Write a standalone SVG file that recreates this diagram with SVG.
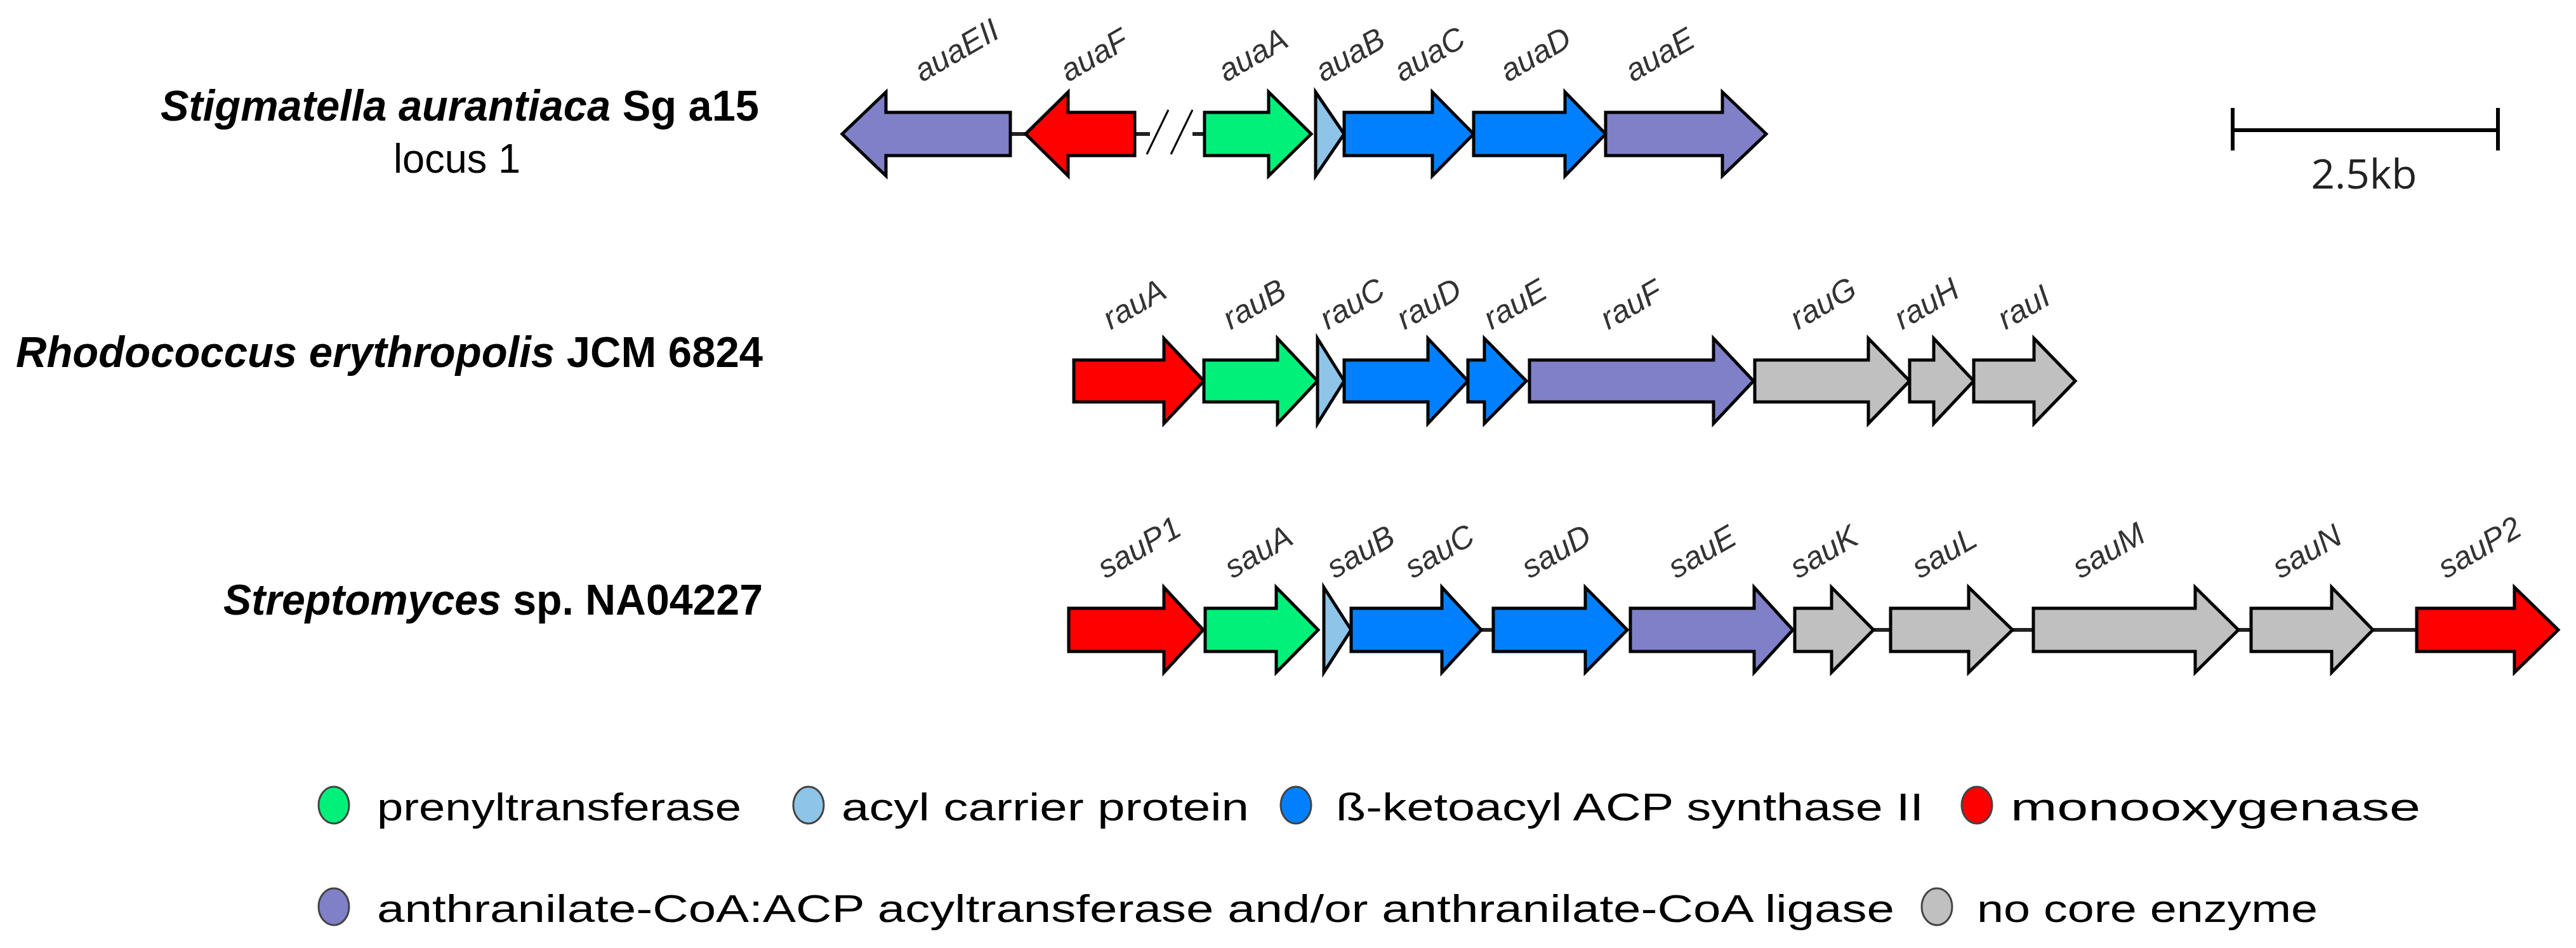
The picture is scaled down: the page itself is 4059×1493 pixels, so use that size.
<svg xmlns="http://www.w3.org/2000/svg" width="4059" height="1493" viewBox="0 0 4059 1493">
<style>
.g{stroke:#000;stroke-width:5;stroke-linejoin:miter}
.pu{fill:#8080C8}.rd{fill:#FF0000}.gr{fill:#00F07A}.lb{fill:#8EC4E8}.bl{fill:#0080FF}.gy{fill:#C0C0C0}
.lbl{font-family:"Liberation Sans",Arial,sans-serif;font-style:italic;font-size:50px;fill:#333}
.org{font-family:"Liberation Sans",Arial,sans-serif;font-weight:bold;font-size:68px;fill:#000}
.leg{font-family:"Liberation Sans",Arial,sans-serif;font-size:62px;fill:#000}
.ln{stroke:#222;stroke-width:6}
</style>
<rect width="4059" height="1493" fill="#fff"/>
<g id="connectors">
<line class="ln" x1="1592" y1="211" x2="1616" y2="211"/>
<line class="ln" x1="1788" y1="211" x2="1812" y2="211"/>
<line class="ln" x1="1879" y1="211" x2="1898" y2="211"/>
<line stroke="#000" stroke-width="3" x1="1807" y1="243" x2="1841" y2="173"/>
<line stroke="#000" stroke-width="3" x1="1845" y1="243" x2="1879" y2="173"/>
<line class="ln" x1="2334" y1="992" x2="2353" y2="992"/>
<line class="ln" x1="2952" y1="992" x2="2979" y2="992"/>
<line class="ln" x1="3171" y1="992" x2="3204" y2="992"/>
<line class="ln" x1="3527" y1="992" x2="3547" y2="992"/>
<line class="ln" x1="3739" y1="992" x2="3808" y2="992"/>
</g>
<g id="org1"><text class="org" x="1196" y="190" text-anchor="end" textLength="943" lengthAdjust="spacingAndGlyphs"><tspan font-style="italic">Stigmatella aurantiaca </tspan>Sg a15</text>
<text x="720" y="272" text-anchor="middle" font-family="Liberation Sans,Arial,sans-serif" font-size="64" textLength="200" lengthAdjust="spacingAndGlyphs">locus 1</text></g>
<g id="org2"><text class="org" x="1202" y="578" text-anchor="end" textLength="1177" lengthAdjust="spacingAndGlyphs"><tspan font-style="italic">Rhodococcus erythropolis </tspan>JCM 6824</text></g>
<g id="org3"><text class="org" x="1202" y="968" text-anchor="end" textLength="850" lengthAdjust="spacingAndGlyphs"><tspan font-style="italic">Streptomyces </tspan>sp. NA04227</text></g>
<g id="scale"><line stroke="#000" stroke-width="6" x1="3518" y1="205" x2="3936" y2="205"/><line stroke="#000" stroke-width="6" x1="3518" y1="170" x2="3518" y2="237"/><line stroke="#000" stroke-width="6" x1="3936" y1="170" x2="3936" y2="237"/>
<text x="3725" y="297" text-anchor="middle" font-family="Open Sans,sans-serif" font-size="64" fill="#222" textLength="167" lengthAdjust="spacingAndGlyphs">2.5kb</text></g>
<g id="auaEII"><polygon class="g pu" points="1592,177 1396,177 1396,145 1327,211 1396,277 1396,245 1592,245"/><text class="lbl" transform="translate(1453,130) rotate(-30)">auaEII</text></g>
<g id="auaF"><polygon class="g rd" points="1788,177 1683,177 1683,145 1616,211 1683,277 1683,245 1788,245"/><text class="lbl" transform="translate(1683,130) rotate(-30)">auaF</text></g>
<g id="auaA"><polygon class="g gr" points="1898,177 1999,177 1999,145 2066,211 1999,277 1999,245 1898,245"/><text class="lbl" transform="translate(1932,130) rotate(-30)">auaA</text></g>
<g id="auaB"><polygon class="g lb" points="2073,145 2118,211 2073,277"/><text class="lbl" transform="translate(2085,130) rotate(-30)">auaB</text></g>
<g id="auaC"><polygon class="g bl" points="2118,177 2257,177 2257,145 2322,211 2257,277 2257,245 2118,245"/><text class="lbl" transform="translate(2209,130) rotate(-30)">auaC</text></g>
<g id="auaD"><polygon class="g bl" points="2322,177 2466,177 2466,145 2530,211 2466,277 2466,245 2322,245"/><text class="lbl" transform="translate(2376,130) rotate(-30)">auaD</text></g>
<g id="auaE"><polygon class="g pu" points="2530,177 2714,177 2714,145 2783,211 2714,277 2714,245 2530,245"/><text class="lbl" transform="translate(2573,130) rotate(-30)">auaE</text></g>
<g id="rauA"><polygon class="g rd" points="1692,567 1834,567 1834,533 1897,600 1834,667 1834,633 1692,633"/><text class="lbl" transform="translate(1750,520) rotate(-30)">rauA</text></g>
<g id="rauB"><polygon class="g gr" points="1897,567 2013,567 2013,533 2076,600 2013,667 2013,633 1897,633"/><text class="lbl" transform="translate(1939,520) rotate(-30)">rauB</text></g>
<g id="rauC"><polygon class="g lb" points="2076,533 2118,600 2076,667"/><text class="lbl" transform="translate(2092,520) rotate(-30)">rauC</text></g>
<g id="rauD"><polygon class="g bl" points="2118,567 2250,567 2250,533 2313,600 2250,667 2250,633 2118,633"/><text class="lbl" transform="translate(2213,520) rotate(-30)">rauD</text></g>
<g id="rauE"><polygon class="g bl" points="2313,567 2339,567 2339,533 2405,600 2339,667 2339,633 2313,633"/><text class="lbl" transform="translate(2350,520) rotate(-30)">rauE</text></g>
<g id="rauF"><polygon class="g pu" points="2410,567 2700,567 2700,533 2763,600 2700,667 2700,633 2410,633"/><text class="lbl" transform="translate(2534,520) rotate(-30)">rauF</text></g>
<g id="rauG"><polygon class="g gy" points="2765,567 2944,567 2944,533 3009,600 2944,667 2944,633 2765,633"/><text class="lbl" transform="translate(2833,520) rotate(-30)">rauG</text></g>
<g id="rauH"><polygon class="g gy" points="3009,567 3047,567 3047,533 3110,600 3047,667 3047,633 3009,633"/><text class="lbl" transform="translate(2997,520) rotate(-30)">rauH</text></g>
<g id="rauI"><polygon class="g gy" points="3110,567 3205,567 3205,533 3270,600 3205,667 3205,633 3110,633"/><text class="lbl" transform="translate(3160,520) rotate(-30)">rauI</text></g>
<g id="sauP1"><polygon class="g rd" points="1684,958 1834,958 1834,925 1896,992 1834,1059 1834,1026 1684,1026"/><text class="lbl" transform="translate(1742,912) rotate(-30)">sauP1</text></g>
<g id="sauA"><polygon class="g gr" points="1899,958 2011,958 2011,925 2077,992 2011,1059 2011,1026 1899,1026"/><text class="lbl" transform="translate(1942,912) rotate(-30)">sauA</text></g>
<g id="sauB"><polygon class="g lb" points="2086,925 2129,992 2086,1059"/><text class="lbl" transform="translate(2103,912) rotate(-30)">sauB</text></g>
<g id="sauC"><polygon class="g bl" points="2129,958 2272,958 2272,925 2334,992 2272,1059 2272,1026 2129,1026"/><text class="lbl" transform="translate(2226,912) rotate(-30)">sauC</text></g>
<g id="sauD"><polygon class="g bl" points="2353,958 2498,958 2498,925 2564,992 2498,1059 2498,1026 2353,1026"/><text class="lbl" transform="translate(2410,912) rotate(-30)">sauD</text></g>
<g id="sauE"><polygon class="g pu" points="2569,958 2764,958 2764,925 2825,992 2764,1059 2764,1026 2569,1026"/><text class="lbl" transform="translate(2641,912) rotate(-30)">sauE</text></g>
<g id="sauK"><polygon class="g gy" points="2828,958 2886,958 2886,925 2952,992 2886,1059 2886,1026 2828,1026"/><text class="lbl" transform="translate(2833,912) rotate(-30)">sauK</text></g>
<g id="sauL"><polygon class="g gy" points="2979,958 3102,958 3102,925 3171,992 3102,1059 3102,1026 2979,1026"/><text class="lbl" transform="translate(3025,912) rotate(-30)">sauL</text></g>
<g id="sauM"><polygon class="g gy" points="3204,958 3459,958 3459,925 3527,992 3459,1059 3459,1026 3204,1026"/><text class="lbl" transform="translate(3278,912) rotate(-30)">sauM</text></g>
<g id="sauN"><polygon class="g gy" points="3547,958 3674,958 3674,925 3739,992 3674,1059 3674,1026 3547,1026"/><text class="lbl" transform="translate(3593,912) rotate(-30)">sauN</text></g>
<g id="sauP2"><polygon class="g rd" points="3808,958 3962,958 3962,925 4031,992 3962,1059 3962,1026 3808,1026"/><text class="lbl" transform="translate(3854,912) rotate(-30)">sauP2</text></g>
<g id="legend">
<ellipse class="gr" cx="526" cy="1268" rx="24" ry="29" stroke="#444" stroke-width="3"/><text class="leg" x="594" y="1292" textLength="574" lengthAdjust="spacingAndGlyphs">prenyltransferase</text>
<ellipse class="lb" cx="1274" cy="1268" rx="24" ry="29" stroke="#444" stroke-width="3"/><text class="leg" x="1326" y="1292" textLength="642" lengthAdjust="spacingAndGlyphs">acyl carrier protein</text>
<ellipse class="bl" cx="2042" cy="1268" rx="24" ry="29" stroke="#444" stroke-width="3"/><text class="leg" x="2105" y="1292" textLength="926" lengthAdjust="spacingAndGlyphs">ß-ketoacyl ACP synthase II</text>
<ellipse class="rd" cx="3115" cy="1268" rx="24" ry="29" stroke="#444" stroke-width="3"/><text class="leg" x="3168" y="1292" textLength="646" lengthAdjust="spacingAndGlyphs">monooxygenase</text>
<ellipse class="pu" cx="526" cy="1428" rx="24" ry="29" stroke="#444" stroke-width="3"/><text class="leg" x="594" y="1452" textLength="2391" lengthAdjust="spacingAndGlyphs">anthranilate-CoA:ACP acyltransferase and/or anthranilate-CoA ligase</text>
<ellipse class="gy" cx="3052" cy="1428" rx="24" ry="29" stroke="#444" stroke-width="3"/><text class="leg" x="3115" y="1452" textLength="537" lengthAdjust="spacingAndGlyphs">no core enzyme</text>
</g>
</svg>
